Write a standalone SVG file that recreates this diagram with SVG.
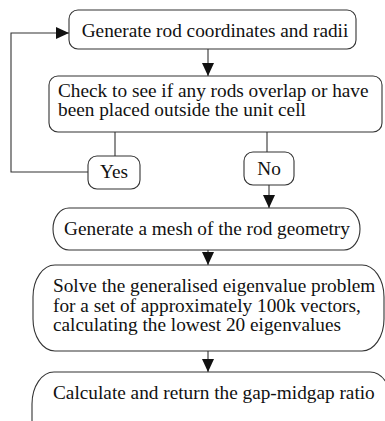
<svg xmlns="http://www.w3.org/2000/svg" width="385" height="421" viewBox="0 0 385 421">
<defs>
<marker id="ah" markerUnits="userSpaceOnUse" markerWidth="14" markerHeight="12" refX="13" refY="6" orient="auto">
<path d="M0,0 L13,6 L0,12 Z" fill="#111"/>
</marker>
<style>
.box{fill:#fff;stroke:#333;stroke-width:1.1}
.ln{fill:none;stroke:#333;stroke-width:1.1}
.ar{fill:none;stroke:#333;stroke-width:1.1;marker-end:url(#ah)}
text{font-family:"Liberation Serif","Times New Roman",serif;font-size:19.3px;fill:#111}
.c{text-anchor:middle}
</style>
</defs>
<rect width="385" height="421" fill="#fff"/>
<g id="connectors">
<line class="ar" x1="208" y1="49" x2="208" y2="76"/>
<line class="ln" x1="115" y1="132" x2="115" y2="156"/>
<line class="ln" x1="267" y1="132" x2="267" y2="152"/>
<polyline class="ar" points="88,172 11,172 11,33 69,33"/>
<line class="ar" x1="269" y1="185" x2="269" y2="208"/>
<line class="ar" x1="208" y1="250" x2="208" y2="265"/>
<line class="ar" x1="208" y1="350" x2="208" y2="372"/>
</g>
<g id="n1">
<rect class="box" x="69" y="10" width="287" height="39" rx="9"/>
<text class="c" x="215" y="36.5">Generate rod coordinates and radii</text>
</g>
<g id="n2">
<rect class="box" x="49" y="76" width="333" height="56" rx="9"/>
<text x="58" y="97">Check to see if any rods overlap or have</text>
<text x="58" y="116">been placed outside the unit cell</text>
</g>
<g id="yes">
<rect class="box" x="88" y="156" width="52" height="33" rx="9"/>
<text class="c" x="114" y="178">Yes</text>
</g>
<g id="no">
<rect class="box" x="244" y="152" width="50" height="33" rx="9"/>
<text class="c" x="269" y="175">No</text>
</g>
<g id="n3">
<rect class="box" x="53" y="208" width="307" height="42" rx="16" ry="21"/>
<text class="c" x="207" y="235">Generate a mesh of the rod geometry</text>
</g>
<g id="n4">
<rect class="box" x="33" y="265" width="351" height="86" rx="22" ry="32"/>
<text x="53" y="292">Solve the generalised eigenvalue problem</text>
<text x="53" y="312">for a set of approximately 100k vectors,</text>
<text x="53" y="331">calculating the lowest 20 eigenvalues</text>
</g>
<g id="n5">
<rect class="box" x="32" y="372" width="360" height="80" rx="22" ry="32"/>
<text x="53" y="399">Calculate and return the gap-midgap ratio</text>
</g>
</svg>
